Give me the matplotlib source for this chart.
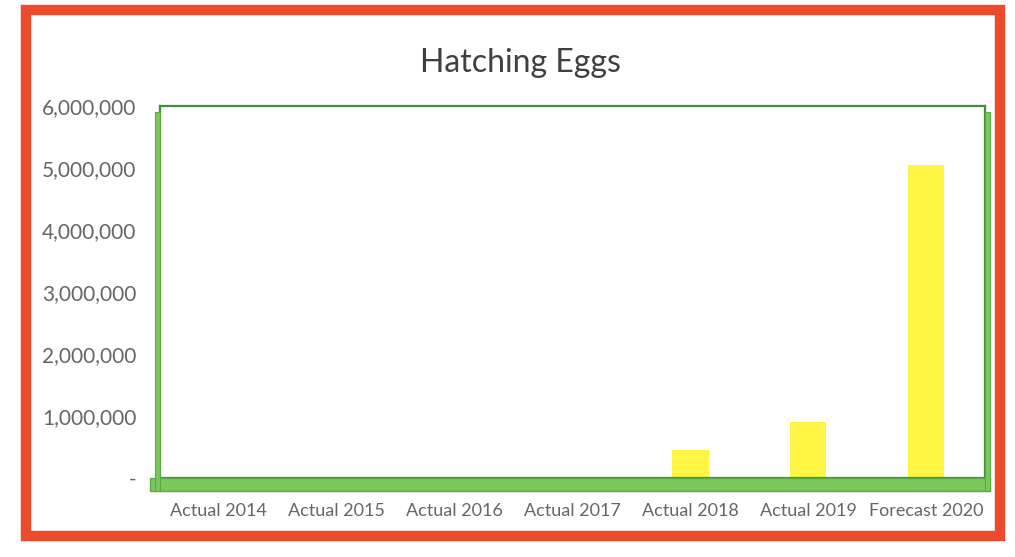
import matplotlib
matplotlib.use("Agg")
import matplotlib.pyplot as plt
from matplotlib.patches import Rectangle
from matplotlib.ticker import FuncFormatter

categories = ["Actual 2014", "Actual 2015", "Actual 2016", "Actual 2017",
              "Actual 2018", "Actual 2019", "Forecast 2020"]
values = [0, 0, 0, 0, 450000, 900000, 5050000]
yticks = [0, 1000000, 2000000, 3000000, 4000000, 5000000, 6000000]
title = "Hatching Eggs"

plt.rcParams['font.family'] = ['Lato', 'DejaVu Sans']

W, H = 1015, 557
fig = plt.figure(figsize=(W / 100, H / 100), dpi=100)
fig.patch.set_facecolor("white")

# outer red frame
fig.patches.append(Rectangle((26 / W, 1 - 536 / H), (1000 - 26) / W, (536 - 10) / H,
                             transform=fig.transFigure, fill=False,
                             edgecolor="#EC4A2C", linewidth=7.5, zorder=0))

ax = fig.add_axes([160 / W, 1 - 478 / H, (985 - 160) / W, (478 - 106) / H])
x = list(range(len(categories)))
ax.bar(x, values, width=0.31, color="#FFF545", zorder=2)
ax.set_xlim(-0.5, len(categories) - 0.5)
ax.set_ylim(0, 6000000)
ax.set_yticks(yticks)
ax.yaxis.set_major_formatter(FuncFormatter(lambda v, p: "-" if v == 0 else f"{int(v):,}"))
ax.set_xticks(x)
ax.set_xticklabels(categories)
ax.tick_params(axis="both", length=0, labelcolor="#666666")
ax.tick_params(axis="y", pad=17, labelsize=15)
ax.tick_params(axis="x", pad=18, labelsize=13)
for s in ax.spines.values():
    s.set_color("#3F8F3A")
    s.set_linewidth(1.6)

# 3D-like green floor and side walls
fig.patches.append(Rectangle((150 / W, 1 - 491 / H), (990 - 150) / W, 13 / H,
                             transform=fig.transFigure, facecolor="#7CC75C",
                             edgecolor="#5BAA45", linewidth=1.0, zorder=1))
fig.patches.append(Rectangle((985 / W, 1 - 491 / H), 5 / W, (491 - 112) / H,
                             transform=fig.transFigure, facecolor="#7CC75C",
                             edgecolor="#5BAA45", linewidth=0.8, zorder=1))
fig.patches.append(Rectangle((155 / W, 1 - 491 / H), 5 / W, (491 - 112) / H,
                             transform=fig.transFigure, facecolor="#7CC75C",
                             edgecolor="#5BAA45", linewidth=0.8, zorder=1))

fig.text(520 / W, 1 - 63 / H, title, ha="center", va="center",
         fontsize=23, color="#404040")

fig.savefig("out.png", dpi=100, facecolor="white")
